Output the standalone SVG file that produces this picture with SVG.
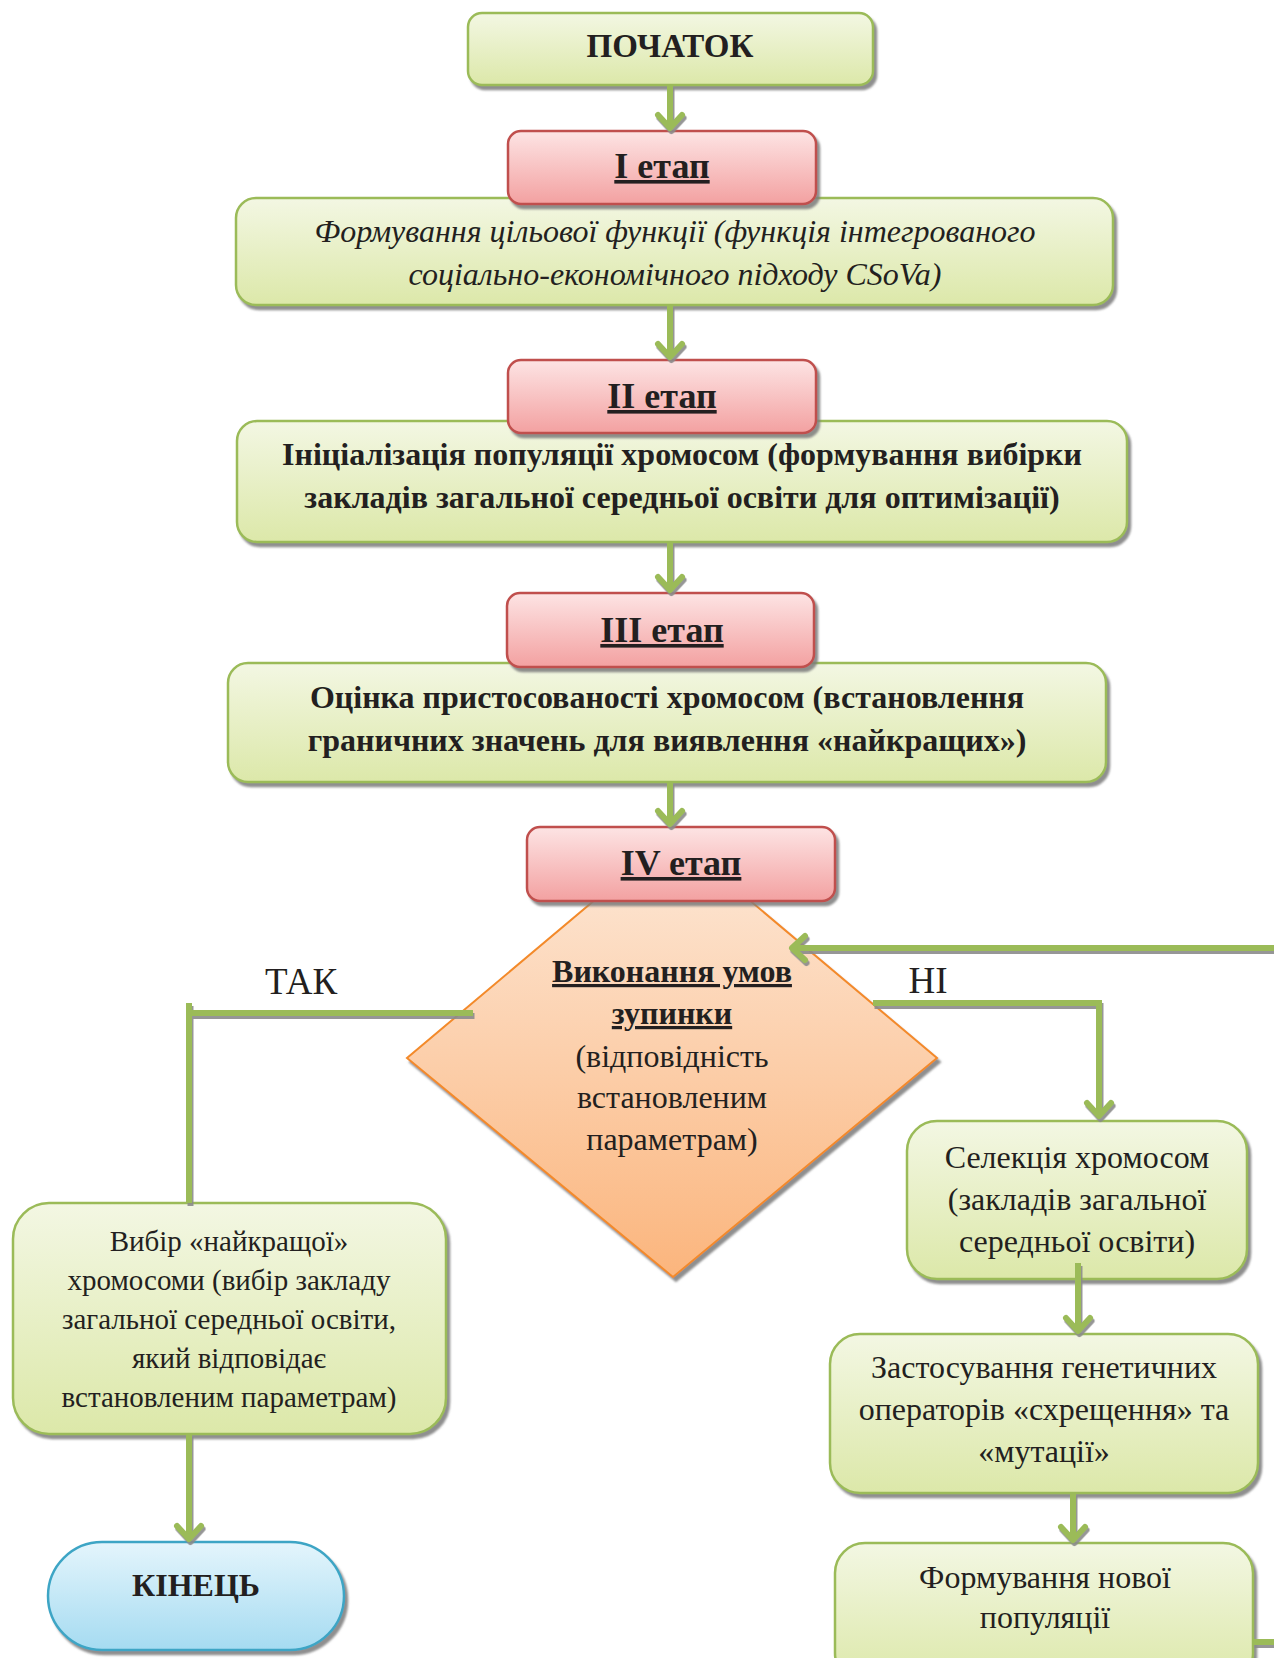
<svg xmlns="http://www.w3.org/2000/svg" width="1274" height="1658" viewBox="0 0 1274 1658">
<defs>
<linearGradient id="gGreen" x1="0" y1="0" x2="0" y2="1"><stop offset="0" stop-color="#f3f7e3"/><stop offset="1" stop-color="#dce8a9"/></linearGradient>
<linearGradient id="gRed" x1="0" y1="0" x2="0" y2="1"><stop offset="0" stop-color="#fde4e4"/><stop offset="1" stop-color="#f3a1a1"/></linearGradient>
<linearGradient id="gOrange" x1="0" y1="0" x2="0" y2="1"><stop offset="0" stop-color="#fde9d9"/><stop offset="1" stop-color="#fbb57d"/></linearGradient>
<linearGradient id="gBlue" x1="0" y1="0" x2="0" y2="1"><stop offset="0" stop-color="#e4f5fc"/><stop offset="1" stop-color="#a5dbf1"/></linearGradient>
<filter id="sh" x="-5%" y="-5%" width="115%" height="120%"><feDropShadow dx="3" dy="4" stdDeviation="1" flood-color="#7a7a7a" flood-opacity="0.85"/></filter>
<filter id="lsh" filterUnits="userSpaceOnUse" x="0" y="0" width="1274" height="1658"><feDropShadow dx="1.5" dy="3" stdDeviation="0.6" flood-color="#8a8a8a" flood-opacity="0.9"/></filter>
<marker id="ah" markerUnits="userSpaceOnUse" markerWidth="40" markerHeight="40" viewBox="-20 -20 40 40" refX="0" refY="0" orient="auto" overflow="visible"><path d="M-13,-12 L0,0 L-13,12" fill="none" stroke="#9bbb59" stroke-width="6" stroke-linecap="round" stroke-linejoin="round"/></marker>
</defs>
<style>
.green{fill:url(#gGreen);stroke:#9bbb59;stroke-width:2.5;filter:url(#sh)}
.red{fill:url(#gRed);stroke:#c0504d;stroke-width:2.5;filter:url(#sh)}
.orange{fill:url(#gOrange);stroke:#f38a2b;stroke-width:2;filter:url(#sh)}
.blue{fill:url(#gBlue);stroke:#3da5c5;stroke-width:2.5;filter:url(#sh)}
text{font-family:"Liberation Serif","Times New Roman",serif;fill:#231f20;text-anchor:middle}
.b{font-weight:bold}
.stage{font-weight:bold;font-size:36px;text-decoration:underline}
.it{font-style:italic;font-size:32px}
.bm{font-weight:bold;font-size:32px}
.dm{font-size:32px}
.rg{font-size:32px}
.lf{font-size:29px}
.lbl{font-size:37px}
.conn{fill:none;stroke:#9bbb59;stroke-width:6}
#connectors{filter:url(#lsh)}
</style>
<rect width="1274" height="1658" fill="#ffffff"/>

<g id="start">
<rect class="green" x="468" y="13" width="405" height="72" rx="14"/>
<text class="b" x="670" y="57" font-size="33">ПОЧАТОК</text>
</g>

<g id="goal">
<rect class="green" x="236" y="198" width="877" height="107" rx="20"/>
<text class="it" x="675" y="242">Формування цільової функції (функція інтегрованого</text>
<text class="it" x="675" y="285">соціально-економічного підходу CSoVa)</text>
</g>
<g id="stage1">
<rect class="red" x="508" y="131" width="308" height="73" rx="13"/>
<text class="stage" x="662" y="178">І етап</text>
</g>

<g id="init">
<rect class="green" x="237" y="421" width="890" height="121" rx="20"/>
<text class="bm" x="682" y="465">Ініціалізація популяції хромосом (формування вибірки</text>
<text class="bm" x="682" y="508">закладів загальної середньої освіти для оптимізації)</text>
</g>
<g id="stage2">
<rect class="red" x="508" y="360" width="308" height="73" rx="13"/>
<text class="stage" x="662" y="408">ІІ етап</text>
</g>

<g id="fitness">
<rect class="green" x="228" y="663" width="878" height="119" rx="20"/>
<text class="bm" x="667" y="708">Оцінка пристосованості хромосом (встановлення</text>
<text class="bm" x="667" y="751">граничних значень для виявлення «найкращих»)</text>
</g>
<g id="stage3">
<rect class="red" x="507" y="593" width="307" height="74" rx="13"/>
<text class="stage" x="662" y="642">ІІІ етап</text>
</g>

<g id="decision">
<polygon class="orange" points="672,835 937,1058 673,1277 407,1058"/>
<text class="bm" x="672" y="982" text-decoration="underline">Виконання умов</text>
<text class="bm" x="672" y="1024" text-decoration="underline">зупинки</text>
<text class="dm" x="672" y="1067">(відповідність</text>
<text class="dm" x="672" y="1108">встановленим</text>
<text class="dm" x="672" y="1150">параметрам)</text>
</g>
<g id="stage4">
<rect class="red" x="527" y="827" width="308" height="74" rx="13"/>
<text class="stage" x="681" y="875">ІV етап</text>
</g>

<g id="best">
<rect class="green" x="13" y="1203" width="433" height="231" rx="36"/>
<text class="lf" x="229" y="1251">Вибір «найкращої»</text>
<text class="lf" x="229" y="1290">хромосоми (вибір закладу</text>
<text class="lf" x="229" y="1329">загальної середньої освіти,</text>
<text class="lf" x="229" y="1368">який відповідає</text>
<text class="lf" x="229" y="1407">встановленим параметрам)</text>
</g>

<g id="end">
<rect class="blue" x="48" y="1542" width="296" height="108" rx="54"/>
<text class="b" x="196" y="1596" font-size="32">КІНЕЦЬ</text>
</g>

<g id="selection">
<rect class="green" x="907" y="1121" width="340" height="158" rx="30"/>
<text class="rg" x="1077" y="1168">Селекція хромосом</text>
<text class="rg" x="1077" y="1210">(закладів загальної</text>
<text class="rg" x="1077" y="1252">середньої освіти)</text>
</g>

<g id="operators">
<rect class="green" x="830" y="1334" width="428" height="159" rx="30"/>
<text class="rg" x="1044" y="1378">Застосування генетичних</text>
<text class="rg" x="1044" y="1420">операторів «схрещення» та</text>
<text class="rg" x="1044" y="1462">«мутації»</text>
</g>

<g id="newpop">
<rect class="green" x="835" y="1543" width="418" height="140" rx="30"/>
<text class="rg" x="1045" y="1588">Формування нової</text>
<text class="rg" x="1045" y="1628">популяції</text>
</g>

<g id="labels">
<text class="lbl" x="301" y="994">ТАК</text>
<text class="lbl" x="928" y="993">НІ</text>
</g>

<g id="connectors">
<path class="conn" d="M670,85 V128" marker-end="url(#ah)"/>
<path class="conn" d="M670,305 V357" marker-end="url(#ah)"/>
<path class="conn" d="M670,542 V590" marker-end="url(#ah)"/>
<path class="conn" d="M670,782 V824" marker-end="url(#ah)"/>
<path class="conn" d="M473,1013 H189 M189,1003 V1203"/>
<path class="conn" d="M189,1434 V1539" marker-end="url(#ah)"/>
<path class="conn" d="M873,1003 H1099 V1116" marker-end="url(#ah)"/>
<path class="conn" d="M1078,1263 V1331" marker-end="url(#ah)"/>
<path class="conn" d="M1073,1493 V1540" marker-end="url(#ah)"/>
<path class="conn" d="M1253,1642 H1274"/>
<path class="conn" d="M1274,948 H792" marker-end="url(#ah)"/>
</g>
</svg>
